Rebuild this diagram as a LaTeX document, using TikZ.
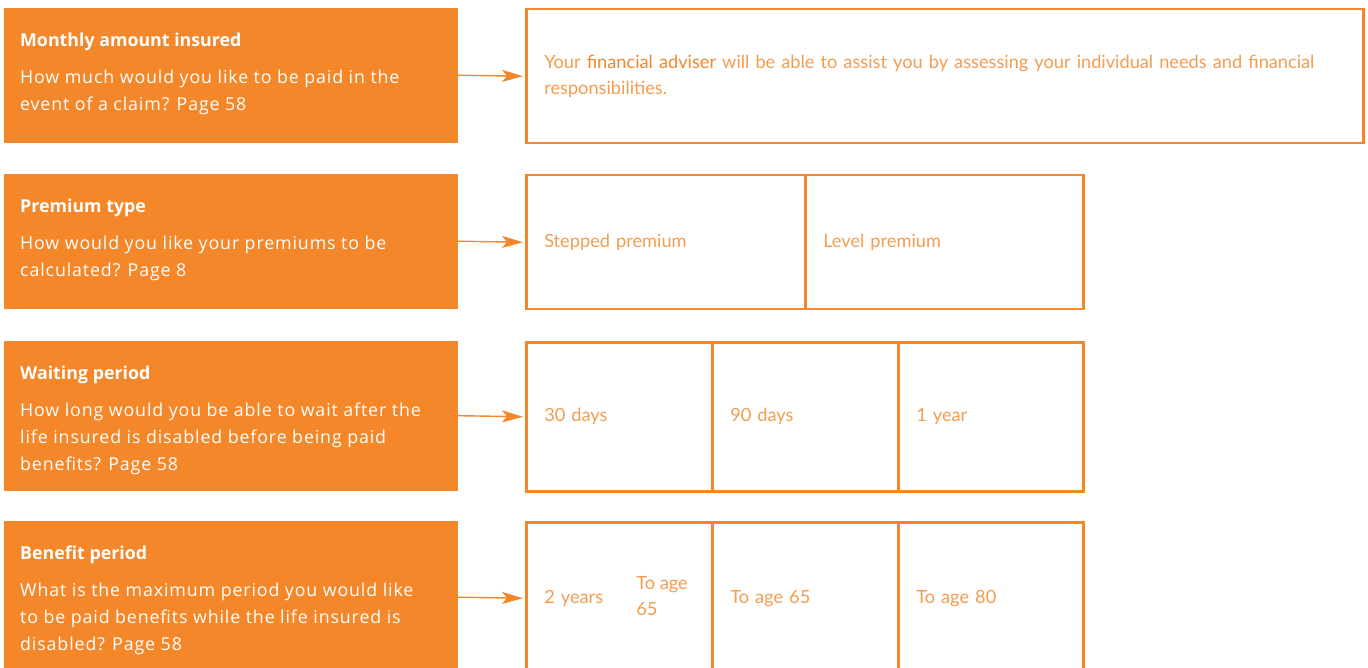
\documentclass[tikz,border=0pt]{standalone}
\usepackage{fontspec}
\setmainfont{Open Sans}
\newfontfamily\qfont[LetterSpace=4.9]{Open Sans}
\newfontfamily\qtitlefont{Open Sans}
\newfontfamily\optfont{Lato}
\usetikzlibrary{arrows.meta}
\definecolor{brandorange}{HTML}{F3872A}
\definecolor{optorange}{HTML}{F49C50}

\newcommand{\qtitle}[1]{{\qtitlefont\bfseries #1}}

\tikzset{
  qbox/.style={fill=brandorange,draw=brandorange,inner sep=0pt,minimum width=453pt,anchor=north west},
  qtext/.style={text=white,inner sep=0pt,anchor=north west,align=left,font=\qfont\fontsize{17.8}{27}\selectfont},
  optcell/.style={draw=brandorange,line width=2.5pt,anchor=north west,inner xsep=18pt,inner ysep=0pt,
    align=left,text=optorange,font=\optfont\fontsize{18.2}{26}\selectfont},
  flowarrow/.style={draw=brandorange,line width=1.4pt,-{Stealth[length=21pt,width=12pt,inset=5pt]},shorten >=2pt}
}

\begin{document}
\begin{tikzpicture}[x=1pt,y=-1pt]
  \useasboundingbox (0,0) rectangle (1368,668);
  \clip (0,0) rectangle (1368,668);

  % questions
  \node[qbox,minimum height=134pt] (q1) at (4,8) {};
  \node[qtext] (q1t) at ([xshift=16pt,yshift=-25pt]q1.north west)
    {\qtitle{Monthly amount insured}\\[10pt]How much would you like to be paid in the\\event of a claim? Page 58};
  \node[qbox,minimum height=134pt] (q2) at (4,174) {};
  \node[qtext] (q2t) at ([xshift=16pt,yshift=-25pt]q2.north west)
    {\qtitle{Premium type}\\[10pt]How would you like your premiums to be\\calculated? Page 8};
  \node[qbox,minimum height=149pt] (q3) at (4,341) {};
  \node[qtext] (q3t) at ([xshift=16pt,yshift=-25pt]q3.north west)
    {\qtitle{Waiting period}\\[10pt]How long would you be able to wait after the\\life insured is disabled before being paid\\benefits? Page 58};
  \node[qbox,minimum height=152pt] (q4) at (4,521) {};
  \node[qtext] (q4t) at ([xshift=16pt,yshift=-25pt]q4.north west)
    {\qtitle{Benefit period}\\[10pt]What is the maximum period you would like\\to be paid benefits while the life insured is\\disabled? Page 58};

  % options
  \node[optcell,minimum width=837pt,minimum height=134pt,text width=801pt] (r1) at (525,8)
    {Your {\color{brandorange}financial adviser} will be able to assist you by assessing your individual needs and financial\\responsibilities.};

  \node[optcell,minimum width=279pt,minimum height=134pt,text width=243pt] (r2a) at (525,174) {Stepped premium};
  \node[optcell,minimum width=278pt,minimum height=134pt,text width=242pt] (r2b) at (804,174) {Level premium};

  \node[optcell,minimum width=186pt,minimum height=149pt,text width=150pt] (r3a) at (525,341) {30 days};
  \node[optcell,minimum width=186pt,minimum height=149pt,text width=150pt] (r3b) at (711,341) {90 days};
  \node[optcell,minimum width=185pt,minimum height=149pt,text width=149pt] (r3c) at (897,341) {1 year};

  \node[optcell,minimum width=186pt,minimum height=152pt,text width=150pt] (r4a) at (525,521) {2 years};
  \node[optcell,draw=none,anchor=west,inner xsep=0pt] (r4ab) at ([xshift=110pt,yshift=2pt]r4a.west) {To age\\65};
  \node[optcell,minimum width=186pt,minimum height=152pt,text width=150pt] (r4b) at (711,521) {To age 65};
  \node[optcell,minimum width=185pt,minimum height=152pt,text width=149pt] (r4c) at (897,521) {To age 80};

  % arrows
  \draw[flowarrow] (q1.east) -- (r1.west);
  \draw[flowarrow] (q2.east) -- (r2a.west);
  \draw[flowarrow] (q3.east) -- (r3a.west);
  \draw[flowarrow] (q4.east) -- (r4a.west);
\end{tikzpicture}
\end{document}
